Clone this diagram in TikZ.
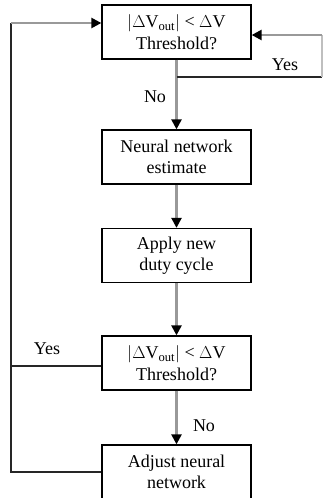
\documentclass[tikz,border=0pt]{standalone}
\usepackage{fontspec}
\setmainfont{Liberation Serif}
\usetikzlibrary{arrows.meta}
\begin{document}
\begin{tikzpicture}[x=1pt,y=-1pt,
  stepbox/.style={draw=black,line width=1.3pt,minimum width=149pt,minimum height=54pt,
    align=center,inner sep=0pt,font=\fontsize{18}{21.5}\selectfont},
  flow/.style={draw=black!40,line width=2.4pt,-{Triangle[length=10pt,width=10pt,color=black]}},
  side/.style={draw=black!85,line width=1.2pt},
  lbl/.style={font=\fontsize{18}{21.5}\selectfont,inner sep=0pt}]
\useasboundingbox (0,0) rectangle (323,498);
\node[stepbox] (b1) at (176.5,32) {$|$$\Delta$V\textsubscript{out}$|$ < $\Delta$V\\Threshold?};
\node[stepbox] (b2) at (176.5,157) {Neural network\\estimate};
\node[stepbox] (b3) at (176.5,255.5) {Apply new\\duty cycle};
\node[stepbox] (b4) at (176.5,363) {$|$$\Delta$V\textsubscript{out}$|$ < $\Delta$V\\Threshold?};
\node[stepbox] (b5) at (176.5,472) {Adjust neural\\network};
\draw[flow] (b1) -- (b2);
\draw[flow] (b2) -- (b3);
\draw[flow] (b3) -- (b4);
\draw[flow] (b4) -- (b5);
\coordinate (rs) at (176.5,77);
\coordinate (rb) at (322,77);
\coordinate (rt) at (322,35);
\draw[side] (rs) -- (rb);
\draw[draw=black!25,line width=1.2pt] (rb) -- (rt);
\draw[flow] (rt) -- (rt -| b1.east);
\coordinate (lb) at (11,472);
\coordinate (lm) at (11,366);
\coordinate (lt) at (11,23);
\draw[side] (b5.west) -- (lb) -- (lt);
\draw[side] (lm -| b4.west) -- (lm);
\draw[flow] (lt) -- (lt -| b1.west);
\node[lbl] (y1) at (285,65) {Yes};
\node[lbl] (n1) at (155,97) {No};
\node[lbl] (y2) at (47,349) {Yes};
\node[lbl] (n2) at (204,426) {No};
\end{tikzpicture}
\end{document}
